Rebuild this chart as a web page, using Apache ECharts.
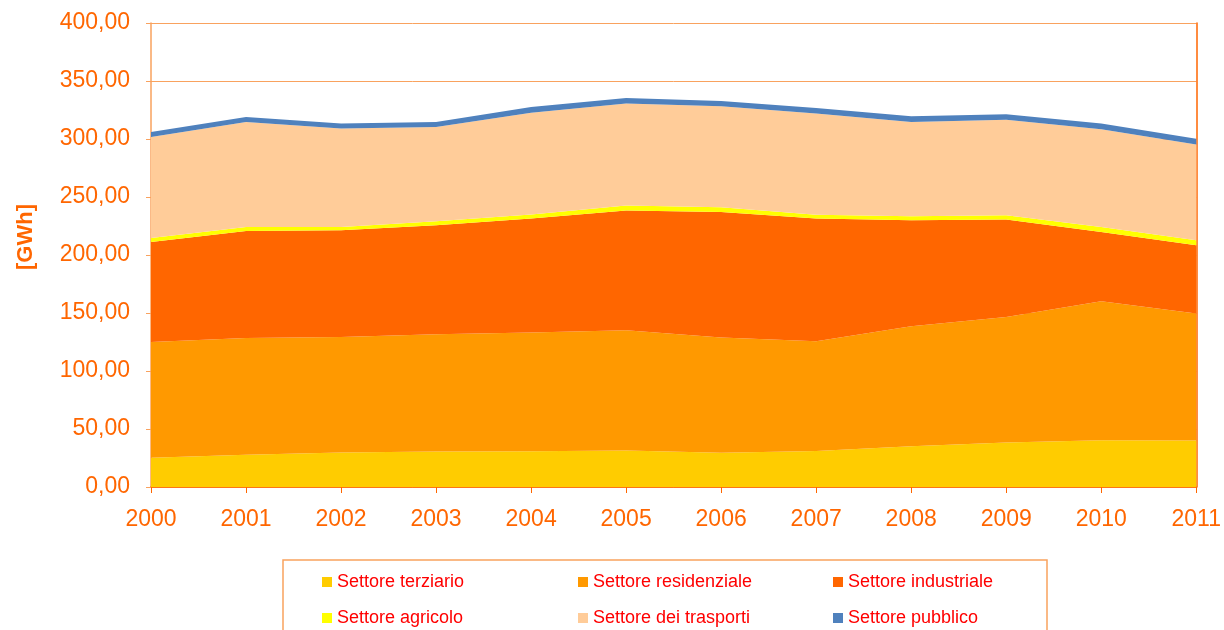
<!DOCTYPE html>
<html>
<head>
<meta charset="utf-8">
<script src="https://cdn.jsdelivr.net/npm/echarts@6/dist/echarts.min.js"></script>
<style>
  html, body { margin: 0; padding: 0; background: #fff; }
  #chart { width: 1224px; height: 630px; }
</style>
</head>
<body>
<div id="chart"></div>
<script>
// anni
const years = ['2000', '2001', '2002', '2003', '2004', '2005', '2006', '2007', '2008', '2009', '2010', '2011'];
// consumi per settore [GWh]
const terziario    = [25.3, 27.9, 29.7, 30.5, 30.8, 31.4, 29.6, 31.0, 35.1, 38.3, 40.3, 40.0];
const residenziale = [99.7, 100.5, 99.6, 101.1, 102.3, 103.7, 99.2, 94.6, 103.4, 108.3, 119.8, 109.5];
const industriale  = [86.2, 92.3, 92.0, 94.0, 98.3, 103.3, 108.3, 105.8, 91.4, 83.9, 59.7, 58.9];
const agricolo     = [3.5, 3.4, 2.8, 3.4, 3.6, 4.3, 4.0, 3.4, 3.5, 3.7, 4.3, 4.3];
const trasporti    = [87.0, 90.6, 84.9, 81.3, 87.7, 87.8, 87.1, 87.1, 81.3, 82.5, 84.3, 82.5];
const pubblico     = [4.3, 4.3, 4.3, 4.4, 4.9, 4.8, 4.6, 4.8, 4.9, 4.6, 4.9, 5.1];

const seriesNames = ['Settore terziario', 'Settore residenziale', 'Settore industriale',
                     'Settore agricolo', 'Settore dei trasporti', 'Settore pubblico'];
const seriesData = [terziario, residenziale, industriale, agricolo, trasporti, pubblico];
const colors = ['#FFCC00', '#FF9900', '#FF6600', '#FFFF00', '#FFCC99', '#4F81BD'];

const orange = '#FF6600';
const lineOrange = '#F9A25E';
const font = '"Liberation Sans", Arial, sans-serif';

// legenda: 2 righe x 3 colonne
const legendX = [322, 578, 833];
const legendY = [573, 609];
const legends = seriesNames.map((name, i) => ({
  data: [name],
  left: legendX[i % 3],
  top: legendY[Math.floor(i / 3)],
  icon: 'rect',
  itemWidth: 10,
  itemHeight: 10,
  itemGap: 5,
  padding: 0,
  selectedMode: false,
  textStyle: { color: '#FF0000', fontSize: 18, fontFamily: font }
}));

const chart = echarts.init(document.getElementById('chart'));
const option = {
  animation: false,
  color: colors,
  grid: { left: 151, right: 27, top: 23, bottom: 143 },
  legend: legends,
  graphic: [{
    type: 'rect',
    shape: { x: 283, y: 560, width: 764, height: 90 },
    style: { fill: 'none', stroke: lineOrange, lineWidth: 1.5 }
  }],
  xAxis: {
    type: 'category',
    data: years,
    boundaryGap: false,
    axisLine: { lineStyle: { color: orange, width: 1.5 } },
    axisTick: { show: true, length: 6, lineStyle: { color: orange } },
    axisLabel: { color: orange, fontSize: 23, fontFamily: font, margin: 21 }
  },
  yAxis: [{
    type: 'value',
    min: 0,
    max: 400,
    interval: 50,
    name: '[GWh]',
    nameLocation: 'middle',
    nameGap: 114,
    nameTextStyle: { color: orange, fontSize: 22, fontWeight: 'bold', fontFamily: font, padding: [0, 0, 0, 36] },
    axisLine: { show: true, lineStyle: { color: lineOrange, width: 1.5 } },
    axisTick: { show: true, length: 5, lineStyle: { color: lineOrange } },
    axisLabel: {
      color: orange, fontSize: 23, fontFamily: font, margin: 21,
      formatter: v => v.toFixed(2).replace('.', ',')
    },
    splitLine: { show: true, lineStyle: { color: lineOrange, width: 1 } }
  }, {
    type: 'value',
    position: 'right',
    min: 0,
    max: 400,
    interval: 50,
    axisLine: { show: true, lineStyle: { color: orange, width: 1.5 } },
    axisTick: { show: false },
    axisLabel: { show: false },
    splitLine: { show: false }
  }],
  series: seriesNames.map((name, i) => ({
    name: name,
    type: 'line',
    stack: 'totale',
    data: seriesData[i],
    showSymbol: false,
    symbol: 'none',
    lineStyle: { width: 0 },
    areaStyle: { color: colors[i], opacity: 1 },
    itemStyle: { color: colors[i] },
    z: 3
  }))
};
chart.setOption(option);
</script>
</body>
</html>
